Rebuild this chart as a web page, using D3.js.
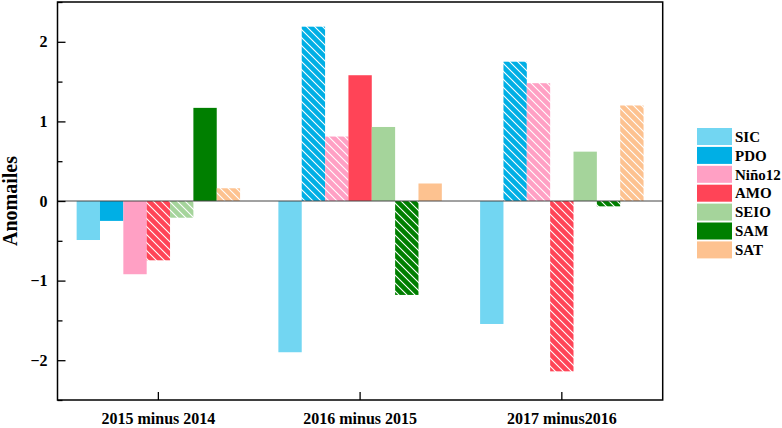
<!DOCTYPE html>
<html>
<head>
<meta charset="utf-8">
<script src="https://cdn.jsdelivr.net/npm/d3@7"></script>
<style>
  body { margin: 0; background: #fff; }
  svg text { font-family: "Liberation Serif", "Times New Roman", serif; font-weight: bold; fill: #000; }
</style>
</head>
<body>
<div id="chart"></div>
<script>
// values
const categories = ["2015 minus 2014", "2016 minus 2015", "2017 minus2016"];
const seriesNames = ["SIC", "PDO", "Niño12", "AMO", "SEIO", "SAM", "SAT"];
const sicValues = [-0.49, -1.90, -1.545];
const pdoValues = [-0.25, 2.19, 1.75];
const ninoValues = [-0.92, 0.81, 1.48];
const amoValues = [-0.745, 1.58, -2.14];
const seioValues = [-0.21, 0.93, 0.62];
const samValues = [1.17, -1.18, -0.067];
const satValues = [0.16, 0.22, 1.20];
const yTicks = [-2, -1, 0, 1, 2];
const yMinorTicks = [-2.5, -1.5, -0.5, 0.5, 1.5, 2.5];

const allValues = [sicValues, pdoValues, ninoValues, amoValues, seioValues, samValues, satValues];

// which bars are drawn with the white hatch (per series, per category)
const hatched = [
    [false, false, false],
    [false, true, true],
    [false, true, true],
    [true, false, true],
    [true, false, false],
    [false, true, true],
    [true, false, true]
];
const colors = ["#72D6F2", "#00AFE5", "#FFA0C4", "#FF4457", "#A5D49B", "#007F00", "#FDC290"];

const width = 782, height = 428;
const plot = {left: 57.5, right: 662.7, top: 2, bottom: 400};

const svg = d3.select("#chart").append("svg")
    .attr("width", width)
    .attr("height", height);

// hatch patterns, one per colour
const defs = svg.append("defs");
colors.forEach((c, i) => {
    const p = defs.append("pattern")
        .attr("id", "hatch" + i)
        .attr("patternUnits", "userSpaceOnUse")
        .attr("width", 8)
        .attr("height", 8);
    p.append("rect").attr("width", 8).attr("height", 8).attr("fill", c);
    p.append("path")
        .attr("d", "M-2,-2 L10,10 M-2,6 L2,10 M6,-2 L10,2")
        .attr("stroke", "#fff")
        .attr("stroke-width", 1.1);
});

const x0 = d3.scaleBand()
    .domain(categories)
    .range([plot.left, plot.right]);

const x1 = d3.scaleBand()
    .domain(seriesNames)
    .range([0, x0.bandwidth()])
    .paddingOuter(0.82);

const y = d3.scaleLinear()
    .domain([-2.5, 2.5])
    .range([plot.bottom, plot.top]);

// bars
const barData = [];
seriesNames.forEach((s, si) => {
    categories.forEach((c, ci) => {
        barData.push({series: s, si: si, cat: c, ci: ci, value: allValues[si][ci]});
    });
});

svg.append("g").selectAll("rect")
    .data(barData)
    .join("rect")
    .attr("x", d => x0(d.cat) + x1(d.series))
    .attr("width", x1.bandwidth())
    .attr("y", d => y(Math.max(0, d.value)))
    .attr("height", d => Math.abs(y(d.value) - y(0)))
    .attr("fill", d => hatched[d.si][d.ci] ? "url(#hatch" + d.si + ")" : colors[d.si]);

// zero line
svg.append("line")
    .attr("x1", plot.left).attr("x2", plot.right)
    .attr("y1", y(0)).attr("y2", y(0))
    .attr("stroke", "#444")
    .attr("stroke-width", 1);

// y axis, ticks inward
const yAxis = svg.append("g")
    .attr("transform", `translate(${plot.left},0)`)
    .call(d3.axisLeft(y).tickValues(yTicks).tickSize(-8).tickPadding(10).tickFormat(d3.format("d")));
yAxis.select(".domain").remove();
yAxis.selectAll("line").attr("stroke-width", 1.3);
yAxis.selectAll("text").style("font-size", "16px").style("font-family", "Liberation Serif").style("font-weight", "bold");

const yMinor = svg.append("g")
    .attr("transform", `translate(${plot.left},0)`)
    .call(d3.axisLeft(y).tickValues(yMinorTicks).tickSize(-5).tickFormat(""));
yMinor.select(".domain").remove();
yMinor.selectAll("line").attr("stroke-width", 1.3);

// x axis
const xAxis = svg.append("g")
    .attr("transform", `translate(0,${plot.bottom})`)
    .call(d3.axisBottom(x0).tickSize(-8).tickPadding(13));
xAxis.select(".domain").remove();
xAxis.selectAll("line").attr("stroke-width", 1.3);
xAxis.selectAll("text").style("font-size", "16px").style("font-family", "Liberation Serif").style("font-weight", "bold");

// frame
svg.append("rect")
    .attr("x", plot.left).attr("y", plot.top)
    .attr("width", plot.right - plot.left)
    .attr("height", plot.bottom - plot.top)
    .attr("fill", "none")
    .attr("stroke", "#000")
    .attr("stroke-width", 1.5);

// y label
svg.append("text")
    .attr("transform", `translate(17,${(plot.top + plot.bottom) / 2}) rotate(-90)`)
    .attr("text-anchor", "middle")
    .style("font-size", "20px")
    .text("Anomailes");

// legend
const legend = svg.append("g").attr("transform", "translate(697,128)");
seriesNames.forEach((s, i) => {
    legend.append("rect")
        .attr("x", 0).attr("y", i * 18.9)
        .attr("width", 35).attr("height", 17)
        .attr("fill", colors[i]);
    legend.append("text")
        .attr("x", 38).attr("y", i * 18.9 + 8.5)
        .attr("dy", "0.35em")
        .style("font-size", "15px")
        .text(s);
});
</script>
</body>
</html>
